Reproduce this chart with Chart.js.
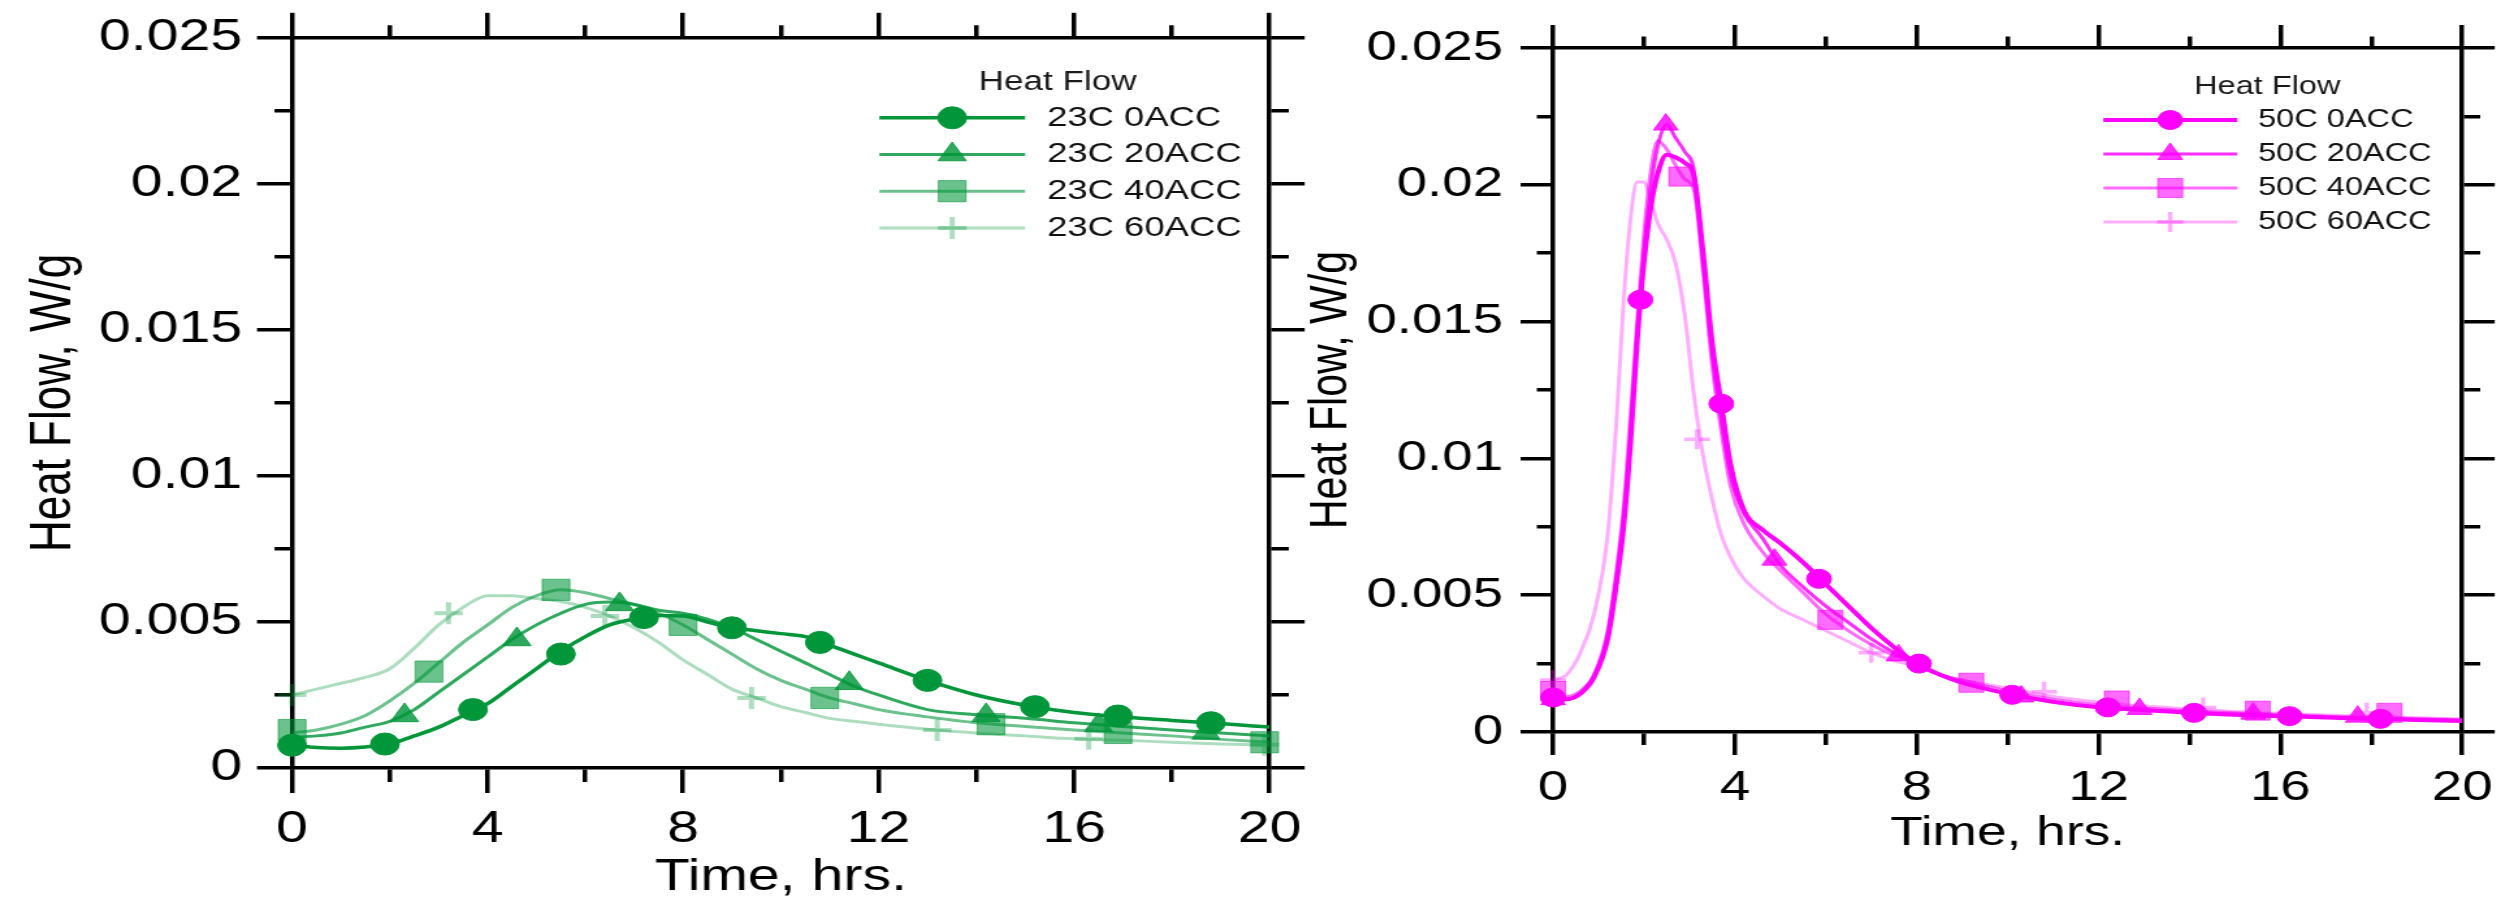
<!DOCTYPE html>
<html>
<head>
<meta charset="utf-8">
<script src="https://cdn.jsdelivr.net/npm/chart.js@4.4.1/dist/chart.umd.min.js"></script>
<style>
  html, body { margin: 0; padding: 0; background: #fff; width: 2514px; height: 904px; overflow: hidden; }
  canvas { position: absolute; top: 0; }
</style>
</head>
<body>
<canvas id="c23"></canvas>
<canvas id="c50"></canvas>
<script>
// ---- data: 23C (left panel) ----
const labels23 = ['23C 0ACC', '23C 20ACC', '23C 40ACC', '23C 60ACC'];
const t23 = [0,0.5,1,1.5,2,2.5,3,3.5,4,4.5,5,5.5,6,6.5,7,7.5,8,8.5,9,9.5,10,10.5,11,11.5,12,13,14,15,16,17,18,19,20];
const hf23_0  = [0.00078,0.0007,0.00068,0.00072,0.00083,0.0011,0.0014,0.0018,0.0022,0.0028,0.0034,0.004,0.0045,0.0049,0.0051,0.00522,0.0052,0.005,0.0048,0.0047,0.0046,0.0045,0.0042,0.0039,0.0036,0.003,0.0025,0.00215,0.0019,0.00175,0.00163,0.00152,0.0014];
const hf23_20 = [0.00105,0.0011,0.0012,0.0014,0.0016,0.002,0.0026,0.0032,0.0038,0.0044,0.0049,0.0053,0.0056,0.00568,0.0056,0.0054,0.0053,0.0051,0.0048,0.0044,0.004,0.0036,0.0032,0.0028,0.0025,0.002,0.00182,0.0017,0.00155,0.00142,0.0013,0.0012,0.0011];
const hf23_40 = [0.0012,0.0013,0.0015,0.0018,0.0023,0.0029,0.0036,0.0043,0.0049,0.0055,0.0059,0.0061,0.006,0.0058,0.0056,0.0053,0.0049,0.0044,0.0039,0.0034,0.003,0.0027,0.0024,0.0022,0.002,0.00175,0.00155,0.00142,0.0013,0.0012,0.0011,0.00098,0.00088];
const hf23_60 = [0.0025,0.0027,0.0029,0.0031,0.0034,0.0041,0.0049,0.0055,0.0059,0.0059,0.0058,0.0057,0.0055,0.0052,0.0048,0.0043,0.0037,0.0032,0.0027,0.0024,0.0021,0.0019,0.0017,0.0016,0.0015,0.00133,0.0012,0.0011,0.001,0.00095,0.00088,0.00082,0.00078];
// marker positions
const mx23_0  = [0,1.9,3.7,5.5,7.2,9.0,10.8,13.0,15.2,16.9,18.8];
const my23_0  = [0.00078,0.00082,0.002,0.0039,0.00515,0.0048,0.0043,0.003,0.0021,0.00178,0.00155];
const mx23_20 = [2.3,4.6,6.7,11.4,14.2,16.5,18.7];
const my23_20 = [0.0018,0.0044,0.0056,0.0029,0.0018,0.00146,0.0012];
const mx23_40 = [0,2.8,5.4,8.0,10.9,14.3,16.9,19.9];
const my23_40 = [0.0013,0.0033,0.0061,0.0049,0.0024,0.0015,0.0012,0.00088];
const mx23_60 = [0,3.2,6.4,9.4,13.2,16.3,19.9];
const my23_60 = [0.0025,0.0053,0.0052,0.0024,0.0013,0.001,0.0008];

// ---- data: 50C (right panel) ----
const labels50 = ['50C 0ACC', '50C 20ACC', '50C 40ACC', '50C 60ACC'];
const t50 = [0,0.3,0.6,0.9,1.2,1.4,1.55,1.7,1.85,2,2.15,2.3,2.5,2.7,2.9,3.1,3.3,3.5,3.7,3.9,4.2,4.6,5,5.5,6,6.5,7,7.5,8,8.5,9,10,11,12,13,14,15,16,17,18,19,20];
const hf50_0  = [0.00125,0.0012,0.0014,0.002,0.0034,0.0055,0.0075,0.0105,0.0143,0.0172,0.0192,0.0204,0.0211,0.021,0.0208,0.0203,0.0175,0.0142,0.012,0.0098,0.0081,0.0074,0.0069,0.0062,0.0054,0.0046,0.0038,0.0031,0.0025,0.0021,0.0018,0.0014,0.0011,0.0009,0.0008,0.0007,0.00063,0.00058,0.00053,0.00048,0.00044,0.0004];
const hf50_20 = [0.0012,0.0012,0.0014,0.002,0.0035,0.0057,0.0078,0.0108,0.0145,0.0176,0.0199,0.0214,0.0222,0.0217,0.0212,0.0205,0.0172,0.0138,0.0114,0.0094,0.008,0.0071,0.0061,0.0053,0.0046,0.004,0.0034,0.0029,0.0025,0.0021,0.0018,0.0014,0.0011,0.00092,0.00082,0.00072,0.00066,0.0006,0.00055,0.0005,0.00046,0.00042];
const hf50_40 = [0.0013,0.0013,0.0015,0.0021,0.0037,0.006,0.0082,0.0115,0.015,0.0182,0.0205,0.0216,0.0213,0.0207,0.0202,0.0198,0.0168,0.0134,0.011,0.009,0.0076,0.0066,0.0059,0.0051,0.0043,0.0037,0.0032,0.0028,0.0025,0.0021,0.0019,0.0015,0.0012,0.001,0.00088,0.00078,0.0007,0.00064,0.00058,0.00053,0.00049,0.00045];
const hf50_60 = [0.0019,0.0021,0.0029,0.0043,0.0072,0.0115,0.0157,0.0187,0.0201,0.0201,0.0194,0.0186,0.018,0.0171,0.0152,0.0123,0.0101,0.0085,0.0072,0.0064,0.0056,0.005,0.0045,0.0041,0.0037,0.0033,0.0029,0.0026,0.0024,0.0021,0.0019,0.0016,0.0013,0.0011,0.00095,0.00085,0.00075,0.00068,0.00062,0.00057,0.00052,0.00048];
const mx50_0  = [0,1.92,3.7,5.85,8.05,10.1,12.2,14.1,16.2,18.2];
const my50_0  = [0.00126,0.0158,0.012,0.0056,0.0025,0.00136,0.0009,0.0007,0.00058,0.00048];
const mx50_20 = [0,2.48,4.87,7.6,10.3,12.9,15.4,17.7];
const my50_20 = [0.0012,0.0222,0.0063,0.0028,0.0013,0.00084,0.00067,0.00056];
const mx50_40 = [0,2.82,6.1,9.2,12.4,15.5,18.4];
const my50_40 = [0.0015,0.0203,0.0041,0.0018,0.00115,0.00078,0.0007];
const mx50_60 = [0,3.17,7.0,10.8,14.3,17.9];
const my50_60 = [0.0019,0.0107,0.0029,0.00147,0.0009,0.0007];

// axis ticks
const xMajor = [0, 4, 8, 12, 16, 20];
const yMajorStep = 0.005;

const FONT = "'Liberation Sans', Arial, Helvetica, sans-serif";
const SX = 1.3;      // the original figure is stretched sideways
const AXW = 3.5;
const INK = '#000';
Chart.defaults.font.family = FONT;

function minorDash(tl, len, fromOuter) {
  return fromOuter ? [0, tl - len, len, 1000] : [len, 1000];
}
const isMajorX = v => xMajor.includes(Math.round(v * 1000) / 1000);
const isMajorY = v => Math.round(v / (yMajorStep / 2)) % 2 === 0;

// legend drawn inside the plot: line + marker + text
const hfLegend = {
  id: 'hfLegend',
  afterDraw(chart, args, o) {
    const { ctx, chartArea: ca } = chart;
    const ds = chart.data.datasets;
    ctx.save();
    ctx.fillStyle = '#1a1a1a';
    ctx.textAlign = 'center';
    ctx.textBaseline = 'middle';
    ctx.font = o.titleSize + 'px ' + FONT;
    ctx.fillText(o.title, ca.right + o.titleX, ca.top + o.titleY);
    for (let i = 0; i < 4; i++) {
      const mk = ds[i], ln = ds[i + 4];
      const y = ca.top + o.rowY + i * o.rowGap;
      ctx.setLineDash([]);
      ctx.strokeStyle = ln.borderColor;
      ctx.lineWidth = ln.borderWidth;
      ctx.beginPath();
      ctx.moveTo(ca.right + o.x0, y);
      ctx.lineTo(ca.right + o.x1, y);
      ctx.stroke();
      ctx.fillStyle = mk.pointBackgroundColor;
      ctx.strokeStyle = mk.pointBorderColor;
      ctx.lineWidth = mk.pointBorderWidth;
      Chart.helpers.drawPoint(ctx, { pointStyle: mk.pointStyle, radius: mk.pointRadius, borderWidth: mk.pointBorderWidth, rotation: 0 }, ca.right + o.xm, y);
      ctx.fillStyle = '#111';
      ctx.textAlign = 'left';
      ctx.font = o.fontSize + 'px ' + FONT;
      ctx.fillText(mk.label, ca.right + o.xt, y);
    }
    ctx.restore();
  }
};

function makeChart(id, p) {
  const c = document.getElementById(id);
  c.width = p.w;
  c.height = p.h;
  c.style.left = p.left + 'px';
  c.style.width = (p.w * SX) + 'px';
  c.style.height = p.h + 'px';

  const pts = (xs, ys) => xs.map((x, i) => ({ x: x, y: ys[i] }));
  const marks = p.mx.map((xs, i) => ({
    label: p.labels[i], data: pts(xs, p.my[i]), showLine: false, clip: false,
    xAxisID: 'x', yAxisID: 'y',
    pointStyle: p.shapes[i].style, pointRadius: p.shapes[i].r, pointHoverRadius: p.shapes[i].r,
    pointBackgroundColor: p.colors[i], pointBorderColor: p.colors[i], pointBorderWidth: p.shapes[i].bw
  }));
  const curves = p.curves.map((ys, i) => ({
    label: p.labels[i], data: pts(p.t, ys), borderColor: p.colors[i], borderWidth: p.lineW[i],
    xAxisID: 'x', yAxisID: 'y', pointRadius: 0, fill: false, cubicInterpolationMode: 'monotone'
  }));

  const tickFont = { family: FONT, size: p.tickSize };
  const titleFont = { family: FONT, size: p.titleSize };
  const xAxis = pos => {
    const bottom = pos === 'bottom';
    return {
      type: 'linear', position: pos, min: 0, max: 20,
      afterFit: s => { s.height = bottom ? p.h - p.area.bottom : p.area.top; },
      ticks: { display: bottom, stepSize: 2, autoSkip: false, maxRotation: 0, padding: p.xPad, color: INK, font: tickFont,
               callback: v => isMajorX(v) ? String(v) : '' },
      grid: { drawOnChartArea: false, tickLength: p.xTl, lineWidth: AXW, tickWidth: AXW, tickColor: INK,
              tickBorderDash: c => (c.tick && !isMajorX(c.tick.value)) ? minorDash(p.xTl, p.xTl / 2, !bottom) : [] },
      border: { display: true, color: INK, width: AXW },
      title: { display: bottom, text: 'Time, hrs.', color: INK, font: titleFont, padding: { top: 0, bottom: p.xTitlePad } }
    };
  };
  const yAxis = pos => {
    const left = pos === 'left';
    return {
      type: 'linear', position: pos, min: 0, max: 0.025,
      afterFit: s => { s.width = left ? p.area.left : p.w - p.area.right; },
      ticks: { display: left, stepSize: 0.0025, autoSkip: false, padding: p.yPad, color: INK, font: tickFont,
               callback: v => isMajorY(v) ? String(+v.toFixed(4)) : '' },
      grid: { drawOnChartArea: false, tickLength: p.yTl, lineWidth: AXW, tickWidth: AXW, tickColor: INK,
              tickBorderDash: c => (c.tick && !isMajorY(c.tick.value)) ? minorDash(p.yTl, p.yTl / 2, left) : [] },
      border: { display: true, color: INK, width: AXW },
      title: { display: left, text: 'Heat Flow, W/g', color: INK, font: titleFont, padding: { top: p.yTitlePad, bottom: 0 } }
    };
  };

  return new Chart(c.getContext('2d'), {
    type: 'line',
    data: { datasets: marks.concat(curves) },
    options: {
      responsive: false,
      animation: false,
      devicePixelRatio: 1,
      layout: { padding: 0 },
      plugins: { legend: { display: false }, tooltip: { enabled: false }, hfLegend: p.legend },
      scales: { x: xAxis('bottom'), x2: xAxis('top'), y: yAxis('left'), y2: yAxis('right') }
    },
    plugins: [hfLegend]
  });
}

const green = ['rgba(0,150,57,1)', 'rgba(0,150,57,0.82)', 'rgba(0,150,57,0.58)', 'rgba(0,150,57,0.32)'];
const magenta = ['rgba(255,0,255,1)', 'rgba(255,0,255,0.82)', 'rgba(255,0,255,0.58)', 'rgba(255,0,255,0.32)'];

makeChart('c23', {
  left: 0, w: 1015, h: 904,
  area: { left: 224.6, right: 976.2, top: 33, bottom: 768 },
  t: t23, curves: [hf23_0, hf23_20, hf23_40, hf23_60],
  mx: [mx23_0, mx23_20, mx23_40, mx23_60], my: [my23_0, my23_20, my23_40, my23_60],
  labels: labels23, colors: green, lineW: [3.5, 3, 3, 3],
  shapes: [{ style: 'circle', r: 11, bw: 1 }, { style: 'triangle', r: 12.5, bw: 1 }, { style: 'rect', r: 15, bw: 1 }, { style: 'cross', r: 11, bw: 4 }],
  tickSize: 44, titleSize: 44, xTl: 25, yTl: 27, xPad: 10.6, yPad: 11.4, xTitlePad: 0, yTitlePad: 15.6,
  legend: { title: 'Heat Flow', titleSize: 27, fontSize: 28, titleX: -163, titleY: 45,
            x0: -300, x1: -188, xm: -244, xt: -171, rowY: 80, rowGap: 36.7 }
});

makeChart('c50', {
  left: 1280, w: 949, h: 904,
  area: { left: 210, right: 909.2, top: 48, bottom: 732 },
  t: t50, curves: [hf50_0, hf50_20, hf50_40, hf50_60],
  mx: [mx50_0, mx50_20, mx50_40, mx50_60], my: [my50_0, my50_20, my50_40, my50_60],
  labels: labels50, colors: magenta, lineW: [4, 3, 3, 3],
  shapes: [{ style: 'circle', r: 9.5, bw: 1 }, { style: 'triangle', r: 11, bw: 1 }, { style: 'rect', r: 13.5, bw: 1 }, { style: 'cross', r: 10, bw: 3.5 }],
  tickSize: 42, titleSize: 41, xTl: 23, yTl: 25, xPad: 7.8, yPad: 13.5, xTitlePad: 46, yTitlePad: 15.4,
  legend: { title: 'Heat Flow', titleSize: 25, fontSize: 25, titleX: -150, titleY: 39,
            x0: -276, x1: -173, xm: -224.6, xt: -157, rowY: 72, rowGap: 34 }
});
</script>
</body>
</html>
